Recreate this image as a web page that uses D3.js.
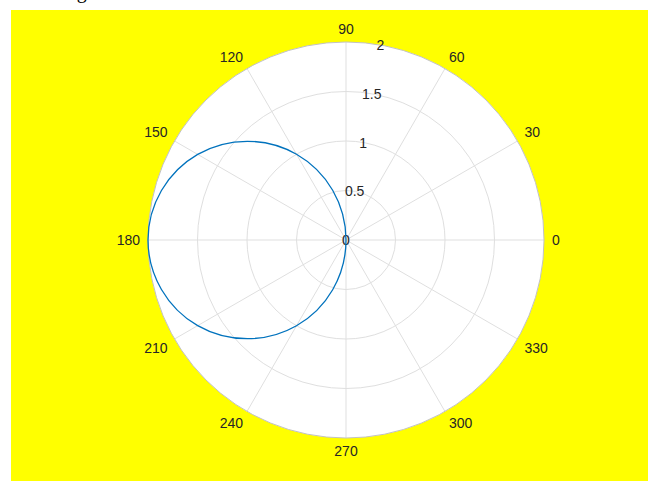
<!DOCTYPE html>
<html>
<head>
<meta charset="utf-8">
<script src="https://cdn.jsdelivr.net/npm/d3@7"></script>
<style>
  html, body { margin: 0; padding: 0; background: #fff; }
  svg { display: block; }
</style>
</head>
<body>
<svg id="chart" width="648" height="481"></svg>
<script>
// values: theta in degrees, rho
const thetaDeg = [90, 105, 120, 135, 150, 165, 180, 195, 210, 225, 240, 255, 270];
const rhoVals = [0, 0.52, 1.0, 1.41, 1.73, 1.93, 2.0, 1.93, 1.73, 1.41, 1.0, 0.52, 0];
const rTicks = [0, 0.5, 1, 1.5, 2];
const thetaTicks = [0, 30, 60, 90, 120, 150, 180, 210, 240, 270, 300, 330];

const svg = d3.select("#chart");
const W = 648, H = 481;
const cx = 346, cy = 240, R = 198;
const rad = (d) => d * Math.PI / 180;

// figure background
svg.append("rect").attr("x", 11).attr("y", 10).attr("width", W - 11).attr("height", H - 10)
  .attr("fill", "#ffff00");

// clipped title text at very top
svg.append("text").attr("x", 60).attr("y", -2)
  .attr("font-family", "Liberation Serif, serif").attr("font-size", 20).attr("fill", "#000")
  .text("Fig");

const r = d3.scaleLinear().domain([0, 2]).range([0, R]);
const g = svg.append("g").attr("transform", `translate(${cx},${cy})`);

g.append("circle").attr("r", R).attr("fill", "#fff");

// grid rings
g.selectAll(".ring").data(rTicks.filter((d) => d > 0 && d < 2)).enter()
  .append("circle").attr("r", (d) => r(d))
  .attr("fill", "none").attr("stroke", "#dfdfdf").attr("stroke-width", 1);

// spokes
g.selectAll(".spoke").data(thetaTicks).enter().append("line")
  .attr("x1", 0).attr("y1", 0)
  .attr("x2", (d) => R * Math.cos(rad(d)))
  .attr("y2", (d) => -R * Math.sin(rad(d)))
  .attr("stroke", "#dfdfdf").attr("stroke-width", 1);

// rim
g.append("circle").attr("r", R).attr("fill", "none").attr("stroke", "#c2c2c2").attr("stroke-width", 1);

// theta labels: nearest box corner sits just outside the rim
const font = "Liberation Sans, Arial, sans-serif";
const fs = 14;
thetaTicks.forEach((d) => {
  const label = String(d);
  const w = label.length * fs * 0.556, h = 10;
  const a = rad(d);
  const c = Math.cos(a), s = Math.sin(a);
  const sx = Math.abs(c) < 0.01 ? 0 : Math.sign(c);
  const sy = Math.abs(s) < 0.01 ? 0 : Math.sign(s);
  const x = (R + 8) * c + sx * w / 2;
  const y = -(R + 8) * s - sy * h / 2;
  g.append("text").attr("x", x).attr("y", y + 5)
    .attr("text-anchor", "middle")
    .attr("font-family", font).attr("font-size", fs).attr("fill", "#262626")
    .text(label);
});

// rho labels along 80 degrees
g.selectAll(".rlab").data(rTicks).enter().append("text")
  .attr("x", (d) => r(d) * Math.cos(rad(80)))
  .attr("y", (d) => -r(d) * Math.sin(rad(80)) + 5)
  .attr("text-anchor", "middle")
  .attr("font-family", font).attr("font-size", fs).attr("fill", "#262626")
  .text((d) => d);

// data curve
const pts = thetaDeg.map((t, i) => [rad(90 - t), r(rhoVals[i])]);
const line = d3.lineRadial().angle((d) => d[0]).radius((d) => d[1])
  .curve(d3.curveCardinalClosed.tension(0));
g.append("path").datum(pts.slice(0, -1)).attr("d", line)
  .attr("fill", "none").attr("stroke", "#0072bd").attr("stroke-width", 1.3);
</script>
</body>
</html>
